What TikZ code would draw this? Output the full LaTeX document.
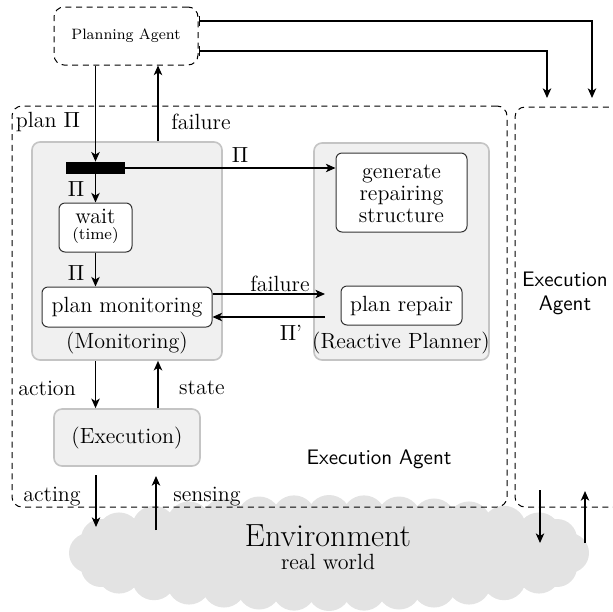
\documentclass[tikz,border=0pt]{standalone}
\usetikzlibrary{arrows.meta,fit}
\definecolor{panel}{HTML}{F0F0F0}
\definecolor{panelline}{HTML}{C4C4C4}
\definecolor{cloudgray}{HTML}{E3E3E3}
\tikzset{
  arr/.style={line width=0.8pt,-{Stealth[length=4.8pt,width=4.2pt,inset=1.3pt]}},
  barr/.style={line width=0.8pt,{Bar[width=5pt,line width=0.6pt]}-{Stealth[length=4.8pt,width=4.2pt,inset=1.3pt]}},
  agentbox/.style={draw,dash pattern=on 3pt off 2.3pt,line width=0.5pt,rounded corners=5pt,inner sep=0pt},
  panelbox/.style={draw=panelline,fill=panel,line width=0.8pt,rounded corners=4pt,inner sep=0pt},
  taskbox/.style={draw=black!80,fill=white,line width=0.5pt,rounded corners=3pt,inner sep=0pt},
  lbl/.style={inner sep=0pt,font=\fontsize{11}{13}\selectfont},
  small/.style={inner sep=0pt,font=\fontsize{8}{9}\selectfont},
  sflbl/.style={inner sep=0pt,font=\sffamily\fontsize{10.5}{12}\selectfont},
  puff/.style={fill=cloudgray},
}
\begin{document}
\begin{tikzpicture}[x=0.5pt,y=-0.5pt]
\useasboundingbox (0,0) rectangle (613,611);

% environment cloud: a flat ellipse edged with round puffs
\node[inner sep=0pt,fit={(62,496) (596,610)}] (env) {};
\fill[cloudgray] (env.center) ellipse [x radius=124pt,y radius=20pt];
\foreach \px in {-210,-175,...,210}{
  \fill[puff,shift={(env.center)}] (\px,{36*sqrt(1-(\px/245)^2)}) circle[radius=11pt];
  \fill[puff,shift={(env.center)}] (\px,{-36*sqrt(1-(\px/245)^2)}) circle[radius=11pt];
}
\foreach \px/\py in {240/0,-240/0,228/14,228/-14,-228/14,-228/-14}{
  \fill[puff,shift={(env.center)}] (\px,\py) circle[radius=10pt];
}
\node[inner sep=0pt,font=\fontsize{16}{18}\selectfont] (envt) at (328,536) {Environment};
\node[lbl] (envs) at (328,562) {real world};

% agent frames
\node[agentbox,fit={(12,106) (507,507)}] (lagent) {};
\node[agentbox,fit={(515,107) (640,507)}] (ragent) {};
\node[agentbox,fit={(54,7) (198,65)}] (pa) {};
\node[inner sep=0pt,font=\fontsize{7.5}{9}\selectfont] at (pa.center) {Planning Agent};

% component panels
\node[panelbox,fit={(32,142) (222,360)}] (mon) {};
\node[panelbox,fit={(314,143) (489,360)}] (rp) {};
\node[panelbox,fit={(54,409) (200,466)}] (exe) {};
\node[lbl] at (exe.center) {(Execution)};

% tasks
\node[fill=black,inner sep=0pt,fit={(66,162) (125,174)}] (bar) {};
\node[taskbox,fit={(59,203) (132,252)}] (wait) {};
\node[lbl] at (95.5,216) {wait};
\node[small] at (95.5,235) {(time)};
\node[taskbox,fit={(42,287) (212,327)}] (pm) {};
\node[lbl] at (pm.center) {plan monitoring};
\node[taskbox,fit={(336,153) (467,232)}] (gen) {};
\node[lbl,anchor=base] at (401.5,178) {generate};
\node[lbl,anchor=base] at (401.5,200) {repairing};
\node[lbl,anchor=base] at (401.5,222) {structure};
\node[taskbox,fit={(341,286) (462,325)}] (pr) {};
\node[lbl] at (pr.center) {plan repair};
\node[lbl] at (127,343) {(Monitoring)};
\node[lbl] at (401,343) {(Reactive Planner)};

% frame labels
\node[sflbl] at (379,459) {Execution Agent};
\node[sflbl,align=center] at (565,293) {Execution\\Agent};

% free ends of connectors
\coordinate (fx) at (158,0);
\coordinate (fy) at (0,294);
\coordinate (py) at (0,317);
\coordinate (fend) at (325,294);
\coordinate (pend) at (325,317);
\coordinate (r1) at (592,21);
\coordinate (r2) at (547,51);
\coordinate (r1e) at (592,98);
\coordinate (r2e) at (547,98);
\coordinate (act1) at (96,475);
\coordinate (act2) at (96,527);
\coordinate (sen1) at (156,530);
\coordinate (sen2) at (156,476);
\coordinate (ra1) at (540,490);
\coordinate (ra2) at (540,543);
\coordinate (rs1) at (585,543);
\coordinate (rs2) at (585,491);

% connectors
\draw[arr] (pa.south -| bar.north) -- (bar.north);
\draw[arr] (mon.north -| fx) -- (pa.south -| fx);
\draw[arr] (bar.south) -- (wait.north);
\draw[arr] (wait.south) -- (pm.north -| wait.south);
\draw[arr] (bar.east) -- (bar.east -| gen.west);
\draw[arr] (pm.east |- fy) -- (fend);
\draw[arr] (pend) -- (pm.east |- py);
\draw[arr] (mon.south -| bar.south) -- (exe.north -| bar.south);
\draw[arr] (exe.north -| fx) -- (mon.south -| fx);
\draw[arr] (act1) -- (act2);
\draw[arr] (sen1) -- (sen2);
\draw[arr] (ra1) -- (ra2);
\draw[arr] (rs1) -- (rs2);
\draw[barr] (pa.east |- r1) -- (r1) -- (r1e);
\draw[barr] (pa.east |- r2) -- (r2) -- (r2e);

% connector labels
\node[lbl] at (48,122) {plan $\Pi$};
\node[lbl] at (201,122) {failure};
\node[lbl] at (240,155) {$\Pi$};
\node[lbl] at (76,189) {$\Pi$};
\node[lbl] at (76,273) {$\Pi$};
\node[lbl] at (280,284) {failure};
\node[lbl] at (291,333) {$\Pi$'};
\node[lbl] at (47,388) {action};
\node[lbl] at (202,388) {state};
\node[lbl] at (52,497) {acting};
\node[lbl] at (207,497) {sensing};
\end{tikzpicture}
\end{document}
